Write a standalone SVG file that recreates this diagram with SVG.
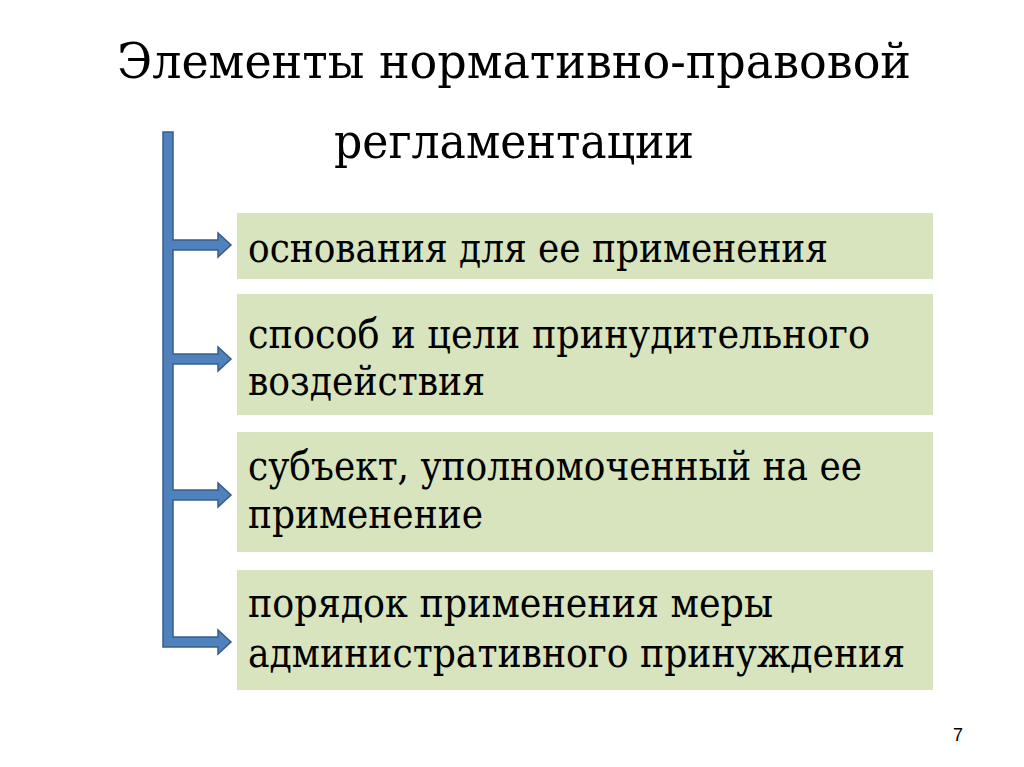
<svg xmlns="http://www.w3.org/2000/svg" width="1024" height="767" viewBox="0 0 1024 767">
<style>
.serif{font-family:'DejaVu Serif Condensed','DejaVu Serif',serif;font-stretch:condensed}
.title{font-size:48px;fill:#000;text-anchor:middle}
.box{fill:#D7E4BD}
.lbl{font-size:41px;fill:#000}
.conn{fill:#4F81BD;stroke:#385D8A;stroke-width:1.5;stroke-linejoin:miter}
.pg{font-family:'Liberation Sans',Arial,sans-serif;font-size:18px;fill:#000;text-anchor:middle}
</style>
<rect width="1024" height="767" fill="#fff"/>
<g id="title" class="serif">
<text class="title" x="514" y="78" textLength="794" lengthAdjust="spacingAndGlyphs">Элементы нормативно-правовой</text>
<text class="title" x="514" y="158" textLength="360" lengthAdjust="spacingAndGlyphs">регламентации</text>
</g>
<g id="connectors">
<path class="conn" d="M163,132 H173 V240 H218 V233 L231,245 L218,257 V250 H173 V354 H218 V347 L231,359 L218,371 V364 H173 V490 H218 V483 L231,495 L218,507 V500 H173 V637 H218 V630 L231,642 L218,654 V647 H163 Z"/>
</g>
<g id="node1" class="serif">
<rect class="box" x="237" y="213" width="696" height="66"/>
<text class="lbl" x="248" y="262" textLength="580" lengthAdjust="spacingAndGlyphs">основания для ее применения</text>
</g>
<g id="node2" class="serif">
<rect class="box" x="237" y="294" width="696" height="121"/>
<text class="lbl" x="248" y="348" textLength="622" lengthAdjust="spacingAndGlyphs">способ и цели принудительного</text>
<text class="lbl" x="248" y="395" textLength="237" lengthAdjust="spacingAndGlyphs">воздействия</text>
</g>
<g id="node3" class="serif">
<rect class="box" x="237" y="432" width="696" height="120"/>
<text class="lbl" x="248" y="480" textLength="614" lengthAdjust="spacingAndGlyphs">субъект, уполномоченный на ее</text>
<text class="lbl" x="248" y="528" textLength="235" lengthAdjust="spacingAndGlyphs">применение</text>
</g>
<g id="node4" class="serif">
<rect class="box" x="237" y="570" width="696" height="120"/>
<text class="lbl" x="248" y="617" textLength="525" lengthAdjust="spacingAndGlyphs">порядок применения меры</text>
<text class="lbl" x="248" y="667" textLength="657" lengthAdjust="spacingAndGlyphs">административного принуждения</text>
</g>
<g id="page">
<text class="pg" x="958" y="741">7</text>
</g>
</svg>
